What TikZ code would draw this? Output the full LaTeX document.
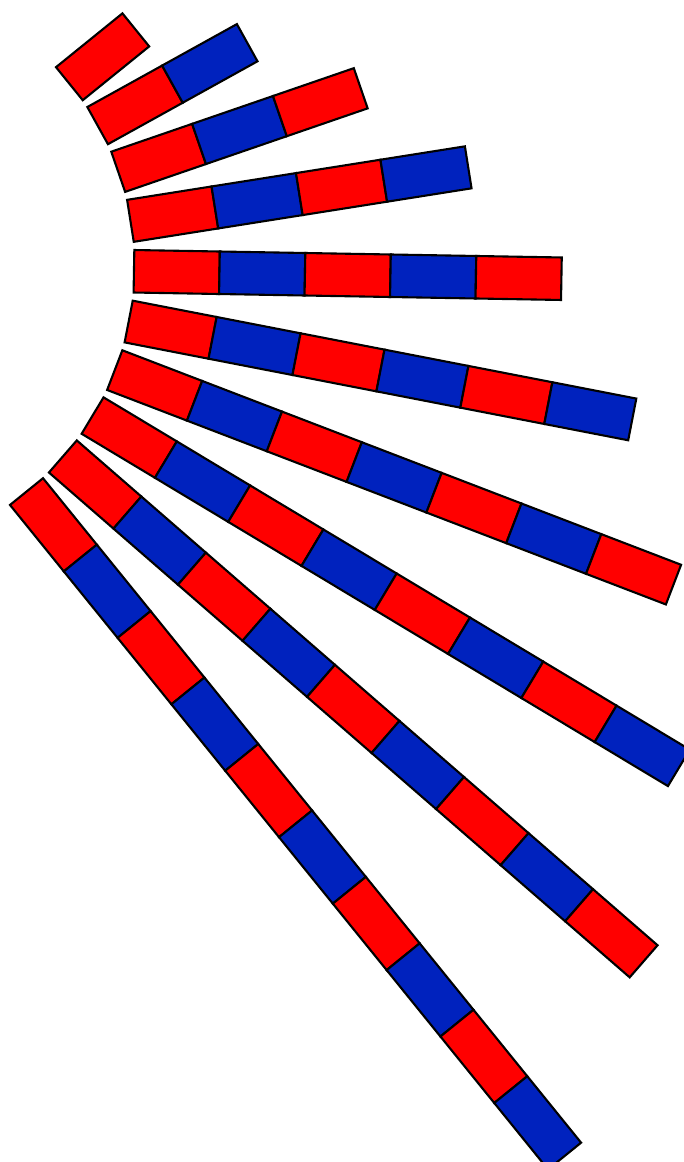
\documentclass[tikz,border=0pt]{standalone}
\definecolor{rowred}{RGB}{255,0,0}
\definecolor{rowblue}{RGB}{0,34,190}
\begin{document}
\begin{tikzpicture}[x=1pt,y=1pt,
  tile/.style={draw=black, line width=2.1pt, line join=miter}]
\useasboundingbox (0,-1162) rectangle (684,0);
\clip (0,-1162) rectangle (684,0);
\coordinate (hub) at (-156,-266.2);
\foreach \k in {1,...,10} {
  \pgfmathsetmacro{\ang}{49-10*\k}
  \begin{scope}[shift={(hub)}, rotate=\ang]
    \foreach \j in {1,...,\k} {
      \pgfmathsetmacro{\ra}{290+85.5*(\j-1)}
      \pgfmathsetmacro{\rb}{\ra+85.5}
      \ifodd\j\def\fc{rowred}\else\def\fc{rowblue}\fi
      \draw[tile, fill=\fc] (\ra,-21.25) rectangle (\rb,21.25);
    }
  \end{scope}
}
\end{tikzpicture}
\end{document}
